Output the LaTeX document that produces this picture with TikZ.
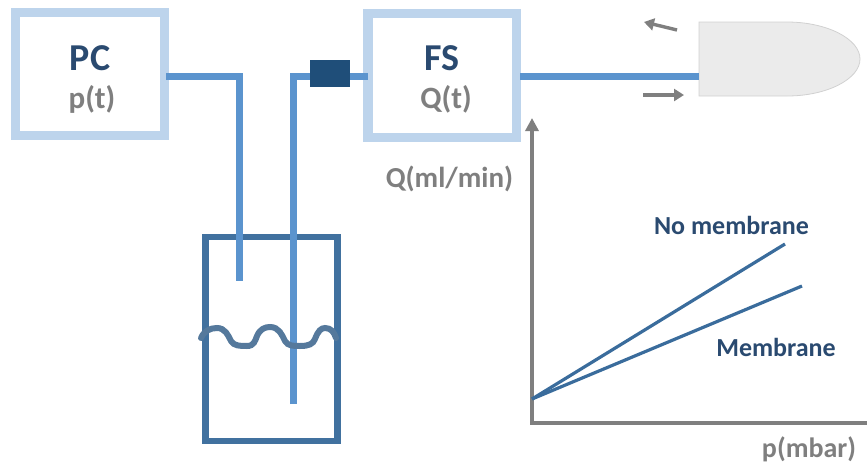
\documentclass[tikz,border=0pt]{standalone}
\usepackage{fontspec}
\setmainfont{Carlito}
\usetikzlibrary{arrows.meta}
\definecolor{boxc}{HTML}{BDD4EC}
\definecolor{pipec}{HTML}{5B94CE}
\definecolor{beakc}{HTML}{41719F}
\definecolor{wavec}{HTML}{55799C}
\definecolor{blockc}{HTML}{1F4E79}
\definecolor{navy}{HTML}{2A4A70}
\definecolor{greyt}{HTML}{7F7F7F}
\definecolor{axisc}{HTML}{7F7F7F}
\definecolor{curvec}{HTML}{3A6C9C}
\tikzset{
  ctrl/.style={draw=boxc,line width=9.5pt,fill=white,minimum width=149pt,minimum height=123pt,inner sep=0pt,outer sep=0pt},
  pipe/.style={draw=pipec,line width=7pt},
  head/.style={font=\fontsize{38}{40}\selectfont\bfseries,text=navy,inner sep=0pt},
  sub/.style={font=\fontsize{31}{33}\selectfont\bfseries,text=greyt,inner sep=0pt},
  axlab/.style={font=\fontsize{29}{31}\selectfont\bfseries,text=greyt,inner sep=0pt},
  curvelab/.style={font=\fontsize{26}{28}\selectfont\bfseries,text=navy,inner sep=0pt},
  axisl/.style={draw=axisc,line width=3.5pt},
  curve/.style={draw=curvec,line width=3.2pt},
  motion/.style={draw=axisc,line width=3.4pt,-{Triangle[length=10pt,width=12pt]}},
}
\begin{document}
\begin{tikzpicture}[x=1pt,y=-1pt]
\useasboundingbox (0,0) rectangle (867,466);
% boxes
\node[ctrl] (pc) at (90,74) {};
\node[ctrl,minimum width=148.5pt,minimum height=124pt] (fs) at (442,75.5) {};
\node[head] (pct) at (90,58) {PC};
\node[sub] (pcs) at (92,99) {p(t)};
\node[head] (fst) at (442,58) {FS};
\node[sub] (fss) at (446,99) {Q(t)};
% beaker
\node[draw=beakc,line width=6.5pt,minimum width=132pt,minimum height=204pt,inner sep=0pt,outer sep=0pt] (beaker) at (271.5,339) {};
% block
\node[fill=blockc,minimum width=40pt,minimum height=27pt,inner sep=0pt,outer sep=0pt] (block) at (330,73.5) {};
% electrode
\node[inner sep=0pt,minimum size=0pt] (tip) at (699,76) {};
\fill[fill=black!8,draw=black!18,line width=0.8pt] (699,22) -- (787,22)
   .. controls (827,22) and (860,39) .. (860,59)
   .. controls (860,79) and (827,96) .. (787,96) -- (699,96) -- cycle;
% pipes
\coordinate (p1a) at (239,76);
\coordinate (p1e) at (239,281);
\coordinate (p2a) at (293,76);
\coordinate (p2e) at (293,404);
\coordinate (pcout) at (166,76);
\coordinate (fsout) at (520,76);
\draw[pipe,line cap=butt,line join=miter] (pcout) -- (p1a) -- (p1e);
\draw[pipe,line join=miter] (p2e) -- (p2a) -- (block.west |- p2a);
\draw[pipe] (block.east |- p2a) -- (fs.west |- p2a);
\draw[pipe] (fsout) -- (tip);
% wave
\draw[draw=wavec,line width=6pt,line cap=round]
  (201,338) .. controls (204,331) and (210,328) .. (217,328)
  .. controls (225,328) and (228,335) .. (231,341)
  .. controls (234,346) and (240,346) .. (247,346)
  .. controls (254,346) and (255,341) .. (257,336)
  .. controls (260,329) and (265,327) .. (270,327)
  .. controls (279,327) and (282,335) .. (285,341)
  .. controls (288,346) and (293,346) .. (300,346)
  .. controls (309,346) and (313,344) .. (315,339)
  .. controls (318,331) and (321,328) .. (325,328)
  .. controls (331,328) and (334,332) .. (336,338);
% axes
\coordinate (origin) at (532,423);
\coordinate (ytop) at (532,118);
\coordinate (xend) at (867,423);
\draw[axisl,-{Triangle[length=13pt,width=13pt]},line cap=butt] (origin) -- (ytop);
\draw[axisl] (530.3,423) -- (xend);
% curves
\coordinate (c0) at (532,399);
\coordinate (c1) at (785,244);
\coordinate (c2) at (802,286);
\draw[curve] (c0) -- (c1);
\draw[curve] (c0) -- (c2);
% motion arrows
\coordinate (ma) at (677,30);
\coordinate (mb) at (644,22);
\coordinate (mc) at (643,95);
\coordinate (md) at (684,95);
\draw[motion] (ma) -- (mb);
\draw[motion] (mc) -- (md);
% labels
\node[axlab] (ql) at (449.5,179) {Q(ml/min)};
\node[axlab,font=\fontsize{28}{30}\selectfont\bfseries] (pl) at (809,449.5) {p(mbar)};
\node[curvelab] (nm) at (731.5,225) {No membrane};
\node[curvelab] (mm) at (776,347) {Membrane};
\end{tikzpicture}
\end{document}
